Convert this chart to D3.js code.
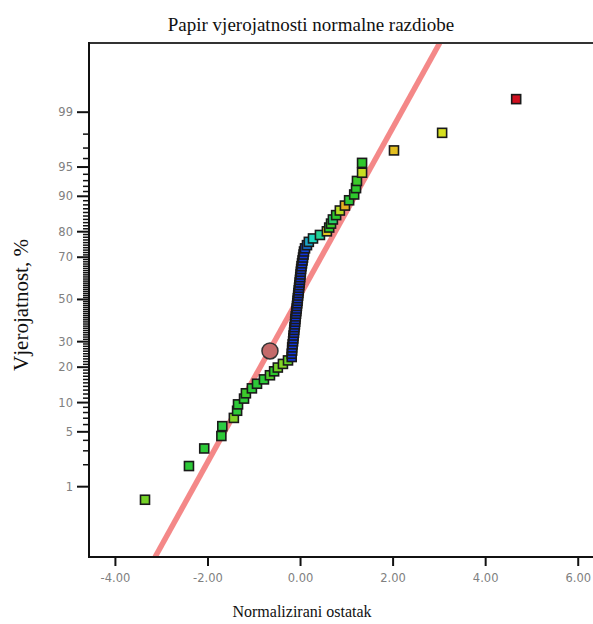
<!DOCTYPE html>
<html><head><meta charset="utf-8">
<script src="https://cdn.jsdelivr.net/npm/d3@7"></script>
<style>
html,body{margin:0;padding:0;background:#fff;}
svg{display:block;}
</style></head>
<body>
<svg id="chart" width="593" height="624"></svg>
<script>
// ---- data ----
const titleText = "Papir vjerojatnosti normalne razdiobe";
const xLabel = "Normalizirani ostatak";
const yLabel = "Vjerojatnost, %";
const xTicks = [-4, -2, 0, 2, 4, 6];
const yMajorTicks = [1, 5, 10, 20, 30, 50, 70, 80, 90, 95, 99];
// sorted normalized residuals
const residuals = [
  -3.35, -2.40, -2.07, -1.70, -1.68, -1.43, -1.36, -1.34, -1.21, -1.17,
  -1.04, -0.93, -0.78, -0.65, -0.56, -0.48, -0.37, -0.26, -0.18, -0.18,
  -0.17, -0.17, -0.16, -0.15, -0.145, -0.14, -0.13, -0.125, -0.12, -0.11,
  -0.105, -0.10, -0.093, -0.086, -0.08, -0.073, -0.067, -0.06, -0.054, -0.048,
  -0.041, -0.035, -0.028, -0.022, -0.015, -0.009, -0.002, 0.004, 0.011, 0.017,
  0.024, 0.032, 0.043, 0.054, 0.065, 0.076, 0.086, 0.108, 0.15, 0.19,
  0.28, 0.43, 0.58, 0.63, 0.67, 0.71, 0.78, 0.86, 0.97, 1.06,
  1.17, 1.21, 1.23, 1.34, 1.34, 2.03, 3.07, 4.67
];
// colour level of each point (0 = low/blue ... 100 = high/red)
const colorLevels = [
  60, 48, 48, 48, 46, 62, 48, 48, 48, 52,
  48, 48, 48, 55, 50, 60, 62, 58, 2, 2,
  2, 2, 2, 2, 2, 2, 2, 2, 2, 2,
  2, 2, 2, 2, 2, 2, 2, 2, 2, 2,
  2, 2, 2, 2, 2, 2, 2, 2, 2, 2,
  2, 2, 2, 2, 2, 2, 2, 4, 10, 18,
  25, 32, 80, 50, 52, 40, 50, 70, 85, 48,
  50, 50, 52, 72, 50, 82, 74, 100
];
// highlighted point (residual, cumulative probability %)
const highlight = { x: -0.65, p: 26.1 };
// fitted normal line: residual = mean + sd * z
const fitLine = { mean: -0.05, sd: 0.963 };

// ---- helpers ----
function probit(p) {
  const a = [-3.969683028665376e+01, 2.209460984245205e+02, -2.759285104469687e+02, 1.383577518672690e+02, -3.066479806614716e+01, 2.506628277459239e+00];
  const b = [-5.447609879822406e+01, 1.615858368580409e+02, -1.556989798598866e+02, 6.680131188771972e+01, -1.328068155288572e+01];
  const c = [-7.784894002430293e-03, -3.223964580411365e-01, -2.400758277161838e+00, -2.549671010115819e+00, 4.374664141464968e+00, 2.938163982698783e+00];
  const d = [7.784695709041462e-03, 3.224671290700398e-01, 2.445134137142996e+00, 3.754408661907416e+00];
  const pl = 0.02425, ph = 1 - pl;
  let q, r;
  if (p < pl) {
    q = Math.sqrt(-2 * Math.log(p));
    return (((((c[0]*q+c[1])*q+c[2])*q+c[3])*q+c[4])*q+c[5]) / ((((d[0]*q+d[1])*q+d[2])*q+d[3])*q+1);
  } else if (p <= ph) {
    q = p - 0.5; r = q*q;
    return (((((a[0]*r+a[1])*r+a[2])*r+a[3])*r+a[4])*r+a[5])*q / (((((b[0]*r+b[1])*r+b[2])*r+b[3])*r+b[4])*r+1);
  } else {
    q = Math.sqrt(-2 * Math.log(1 - p));
    return -(((((c[0]*q+c[1])*q+c[2])*q+c[3])*q+c[4])*q+c[5]) / ((((d[0]*q+d[1])*q+d[2])*q+d[3])*q+1);
  }
}

// ---- layout ----
const svg = d3.select("#chart");
const L = 89, T = 43, R = 593, B = 557;
const x = d3.scaleLinear().domain([-4.56, 6.33]).range([L, R]);
const yz = d3.scaleLinear().domain([-3.2, 3.186]).range([B, T]);
const yP = pct => yz(probit(pct / 100));
const color = d3.scaleLinear()
  .domain([0, 25, 50, 75, 88, 100])
  .range(["#1028e0", "#20d8c0", "#2ec82c", "#dce020", "#e8a020", "#d01020"]);

svg.append("defs").append("clipPath").attr("id", "clip")
  .append("rect").attr("x", L).attr("y", T).attr("width", R - L).attr("height", B - T);

// title & labels
svg.append("text").attr("x", 311).attr("y", 31).attr("text-anchor", "middle")
  .style("font-family", "'Liberation Serif', 'Times New Roman', serif").style("font-size", "19px")
  .attr("fill", "#111").text(titleText);
svg.append("text").attr("x", 302).attr("y", 617).attr("text-anchor", "middle")
  .style("font-family", "'Liberation Serif', 'Times New Roman', serif").style("font-size", "16px")
  .attr("fill", "#111").text(xLabel);
svg.append("text").attr("transform", "translate(28,305) rotate(-90)").attr("text-anchor", "middle")
  .style("font-family", "'Liberation Serif', 'Times New Roman', serif").style("font-size", "21px")
  .attr("fill", "#111").text(yLabel);

// fitted line
const zDom = yz.domain();
svg.append("line").attr("clip-path", "url(#clip)")
  .attr("x1", x(fitLine.mean + fitLine.sd * zDom[0])).attr("y1", yz(zDom[0]))
  .attr("x2", x(fitLine.mean + fitLine.sd * zDom[1])).attr("y2", yz(zDom[1]))
  .attr("stroke", "#f48888").attr("stroke-width", 5.5);

// x axis
const xAxis = d3.axisBottom(x).tickValues(xTicks).tickSize(9).tickPadding(8)
  .tickFormat(d => d.toFixed(2));
const gx = svg.append("g").attr("transform", `translate(0,${B})`).call(xAxis);
gx.select(".domain").remove();
gx.selectAll(".tick line").attr("stroke", "#111").attr("stroke-width", 2);
gx.selectAll(".tick text").attr("fill", "#808080")
  .style("font-family", "'DejaVu Sans', sans-serif").style("font-size", "11.5px");

// y axis (probability scale)
const yMinor = d3.range(1, 100).filter(v => !yMajorTicks.includes(v));
const gy = svg.append("g").attr("transform", `translate(${L},0)`);
gy.selectAll("line.minor").data(yMinor).enter().append("line").attr("class", "minor")
  .attr("x1", -6).attr("x2", 0).attr("y1", d => yP(d)).attr("y2", d => yP(d))
  .attr("stroke", "#111").attr("stroke-width", 1.5);
gy.selectAll("line.major").data(yMajorTicks).enter().append("line").attr("class", "major")
  .attr("x1", -12).attr("x2", 0).attr("y1", d => yP(d)).attr("y2", d => yP(d))
  .attr("stroke", "#111").attr("stroke-width", 2);
gy.selectAll("text").data(yMajorTicks).enter().append("text")
  .attr("x", -16).attr("y", d => yP(d)).attr("dy", "0.35em").attr("text-anchor", "end")
  .attr("fill", "#808080").style("font-family", "'DejaVu Sans', sans-serif").style("font-size", "11.5px")
  .text(d => d);

// frame
svg.append("line").attr("x1", L).attr("x2", R).attr("y1", T).attr("y2", T).attr("stroke", "#333").attr("stroke-width", 2.2);
svg.append("line").attr("x1", L).attr("x2", L).attr("y1", T - 1).attr("y2", B + 1).attr("stroke", "#111").attr("stroke-width", 2);
svg.append("line").attr("x1", L - 1).attr("x2", R).attr("y1", B).attr("y2", B).attr("stroke", "#111").attr("stroke-width", 2);

// points (normal probability plot, plotting positions (i-0.5)/n)
const n = residuals.length;
const pts = residuals.map((r, i) => ({ r, p: 100 * (i + 0.5) / n, c: colorLevels[i] }));
const s = 9;
svg.append("g").attr("clip-path", "url(#clip)").selectAll("rect").data(pts).enter().append("rect")
  .attr("x", d => x(d.r) - s / 2).attr("y", d => yP(d.p) - s / 2)
  .attr("width", s).attr("height", s)
  .attr("fill", d => color(d.c)).attr("stroke", "#1a1a1a").attr("stroke-width", 1.6);

// highlighted point
svg.append("circle").attr("cx", x(highlight.x)).attr("cy", yP(highlight.p)).attr("r", 8)
  .attr("fill", "#c46a6a").attr("stroke", "#333").attr("stroke-width", 1.5);
</script>
</body></html>
